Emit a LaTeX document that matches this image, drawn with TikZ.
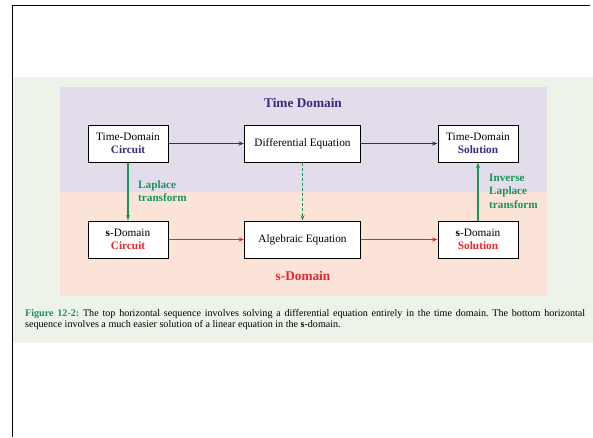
\documentclass[tikz,border=0pt]{standalone}
\usepackage{fontspec}
\setmainfont{Liberation Serif}
\usetikzlibrary{arrows.meta}
\definecolor{panelgreen}{HTML}{EEF3EA}
\definecolor{bgpurple}{HTML}{E3DCEB}
\definecolor{bgpeach}{HTML}{FBE3D8}
\definecolor{tdblue}{HTML}{3B2A7E}
\definecolor{sred}{HTML}{E8262A}
\definecolor{lgreen}{HTML}{17955A}
\tikzset{
  x=1pt, y=-1pt,
  box/.style={draw=black, line width=1pt, fill=white, minimum height=37pt, inner sep=1pt, align=center, font=\fontsize{11.3}{13.5}\selectfont},
  smallbox/.style={box, minimum width=80pt},
  widebox/.style={box, minimum width=116pt},
  conn/.style={line width=1.1pt, -{Stealth[length=5.5pt,width=4pt]}},
  lbl/.style={font=\fontsize{11.2}{13.5}\selectfont\bfseries, text=lgreen, align=left, inner sep=0pt},
  title/.style={font=\fontsize{13.3}{15}\selectfont\bfseries, inner sep=0pt}
}
\begin{document}
\begin{tikzpicture}
\useasboundingbox (0,0) rectangle (593,437);
\fill[white] (0,0) rectangle (593,437);
% caption panel and backgrounds
\fill[panelgreen] (13,77) rectangle (593,343);
\fill[bgpurple] (60,87) rectangle (547,192);
\fill[bgpeach] (60,192) rectangle (547,296);
% page border lines
\draw[line width=0.9pt] (12,437) -- (12,5) -- (590,5);
% titles
\node[title, text=tdblue] (ttitle) at (303,103) {Time Domain};
\node[title, text=sred] (stitle) at (303,276) {s-Domain};
% boxes
\node[smallbox] (tdc) at (128,143.5) {Time-Domain\\\textbf{\textcolor{tdblue}{Circuit}}};
\node[widebox] (de) at (302.5,143.5) {Differential Equation};
\node[smallbox] (tds) at (478,143.5) {Time-Domain\\\textbf{\textcolor{tdblue}{Solution}}};
\node[smallbox] (sdc) at (128,239.5) {\textbf{s}-Domain\\\textbf{\textcolor{sred}{Circuit}}};
\node[widebox] (ae) at (302.5,239.5) {Algebraic Equation};
\node[smallbox] (sds) at (478,239.5) {\textbf{s}-Domain\\\textbf{\textcolor{sred}{Solution}}};
% connectors
\draw[conn, tdblue] (tdc) -- (de);
\draw[conn, tdblue] (de) -- (tds);
\draw[conn, sred] (sdc) -- (ae);
\draw[conn, sred] (ae) -- (sds);
\draw[conn, lgreen] (tdc) -- (sdc);
\draw[conn, lgreen, dash pattern=on 3pt off 2pt] (de) -- (ae);
\draw[conn, lgreen] (sds) -- (tds);
% labels
\node[lbl, anchor=west] (lt) at (138,191) {Laplace\\transform};
\node[lbl, anchor=west] (ilt) at (489,191) {Inverse\\Laplace\\transform};
% caption
\node[anchor=north west, text width=560pt, align=justify, inner sep=0pt, font=\fontsize{10.1}{11}\selectfont\frenchspacing] (cap) at (25,309.5)
{\textcolor{lgreen}{\textbf{Figure 12-2:}} The top horizontal sequence involves solving a differential equation entirely in the time domain. The bottom horizontal\linebreak sequence involves a much easier solution of a linear equation in the \textbf{s}-domain.};
\end{tikzpicture}
\end{document}
